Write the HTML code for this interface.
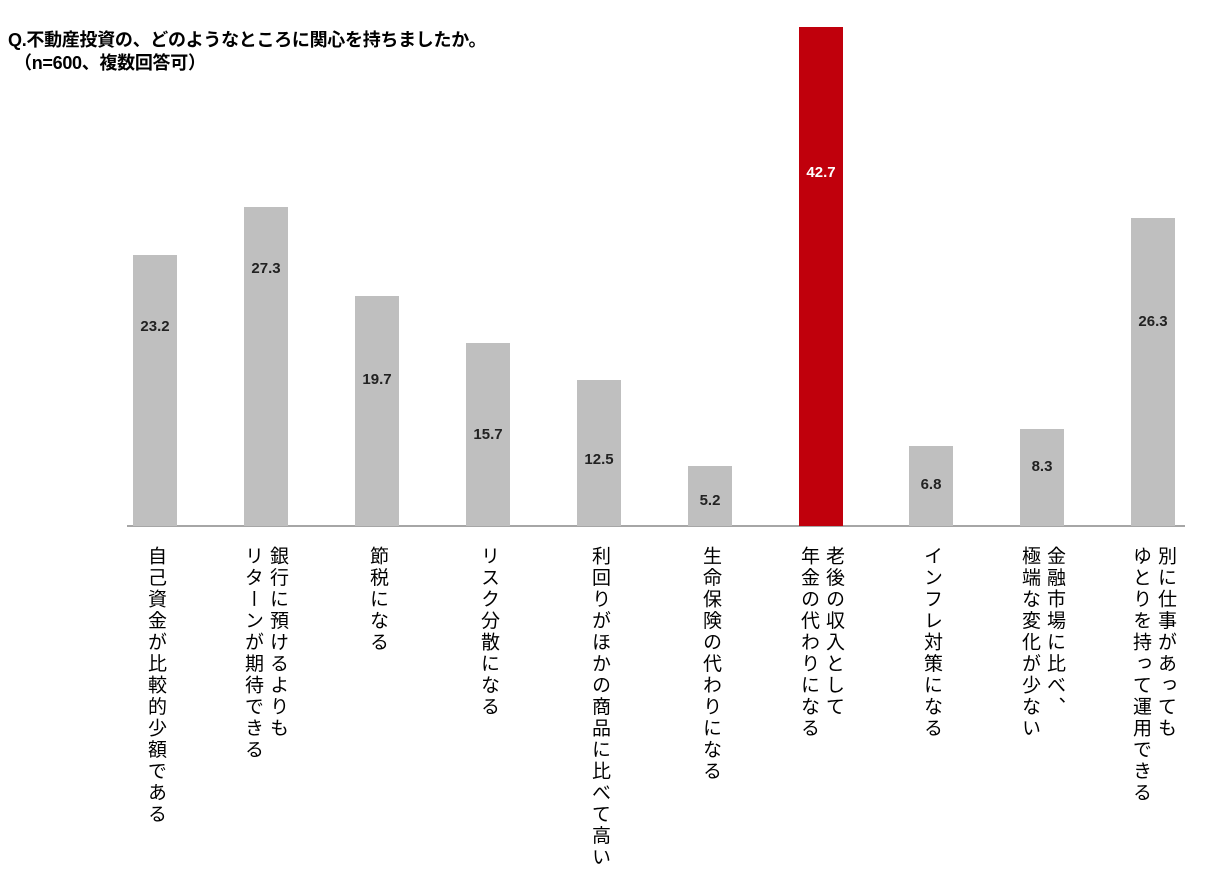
<!DOCTYPE html>
<html><head><meta charset="utf-8"><style>
body{margin:0;width:1222px;height:880px;background:#fff;position:relative;overflow:hidden;font-family:"Liberation Sans","Noto Sans CJK JP",sans-serif}
.t{position:absolute;left:8px;font-weight:bold;font-size:18px;color:#000;white-space:nowrap;letter-spacing:-0.3px}
.b{position:absolute;width:44px;background:#bfbfbf}
.v{position:absolute;width:60px;text-align:center;font-weight:bold;font-size:15px;color:#222}
.l{position:absolute;top:546px;writing-mode:vertical-rl;font-size:19px;line-height:25px;color:#000;white-space:nowrap;letter-spacing:2.5px}
</style></head><body>
<div class="t" style="top:26px">Q.不動産投資の、どのようなところに関心を持ちましたか。</div>
<div class="t" style="top:49px;left:14px">（n=600、複数回答可）</div>
<div style="position:absolute;left:127px;top:525px;width:1058px;height:2px;background:#a6a6a6"></div>

<div class="b" style="left:133px;top:255px;height:271px"></div>
<div class="b" style="left:244px;top:207px;height:319px"></div>
<div class="b" style="left:355px;top:296px;height:230px"></div>
<div class="b" style="left:466px;top:343px;height:183px"></div>
<div class="b" style="left:577px;top:380px;height:146px"></div>
<div class="b" style="left:688px;top:466px;height:60px"></div>
<div class="b" style="left:799px;top:27px;height:499px;background:#c0000c"></div>
<div class="b" style="left:909px;top:446px;height:80px"></div>
<div class="b" style="left:1020px;top:429px;height:97px"></div>
<div class="b" style="left:1131px;top:218px;height:308px"></div>

<div class="v" style="left:125px;top:318px">23.2</div>
<div class="v" style="left:236px;top:260px">27.3</div>
<div class="v" style="left:347px;top:371px">19.7</div>
<div class="v" style="left:458px;top:426px">15.7</div>
<div class="v" style="left:569px;top:451px">12.5</div>
<div class="v" style="left:680px;top:492px">5.2</div>
<div class="v" style="left:791px;top:164px;color:#fff">42.7</div>
<div class="v" style="left:901px;top:476px">6.8</div>
<div class="v" style="left:1012px;top:458px">8.3</div>
<div class="v" style="left:1123px;top:313px">26.3</div>

<div class="l" style="left:143px">自己資金が比較的少額である</div>
<div class="l" style="left:240px">銀行に預けるよりも<br>リターンが期待できる</div>
<div class="l" style="left:365px">節税になる</div>
<div class="l" style="left:476px">リスク分散になる</div>
<div class="l" style="left:587px">利回りがほかの商品に比べて高い</div>
<div class="l" style="left:698px">生命保険の代わりになる</div>
<div class="l" style="left:796px">老後の収入として<br>年金の代わりになる</div>
<div class="l" style="left:919px">インフレ対策になる</div>
<div class="l" style="left:1017px">金融市場に比べ、<br>極端な変化が少ない</div>
<div class="l" style="left:1128px">別に仕事があっても<br>ゆとりを持って運用できる</div>
</body></html>
